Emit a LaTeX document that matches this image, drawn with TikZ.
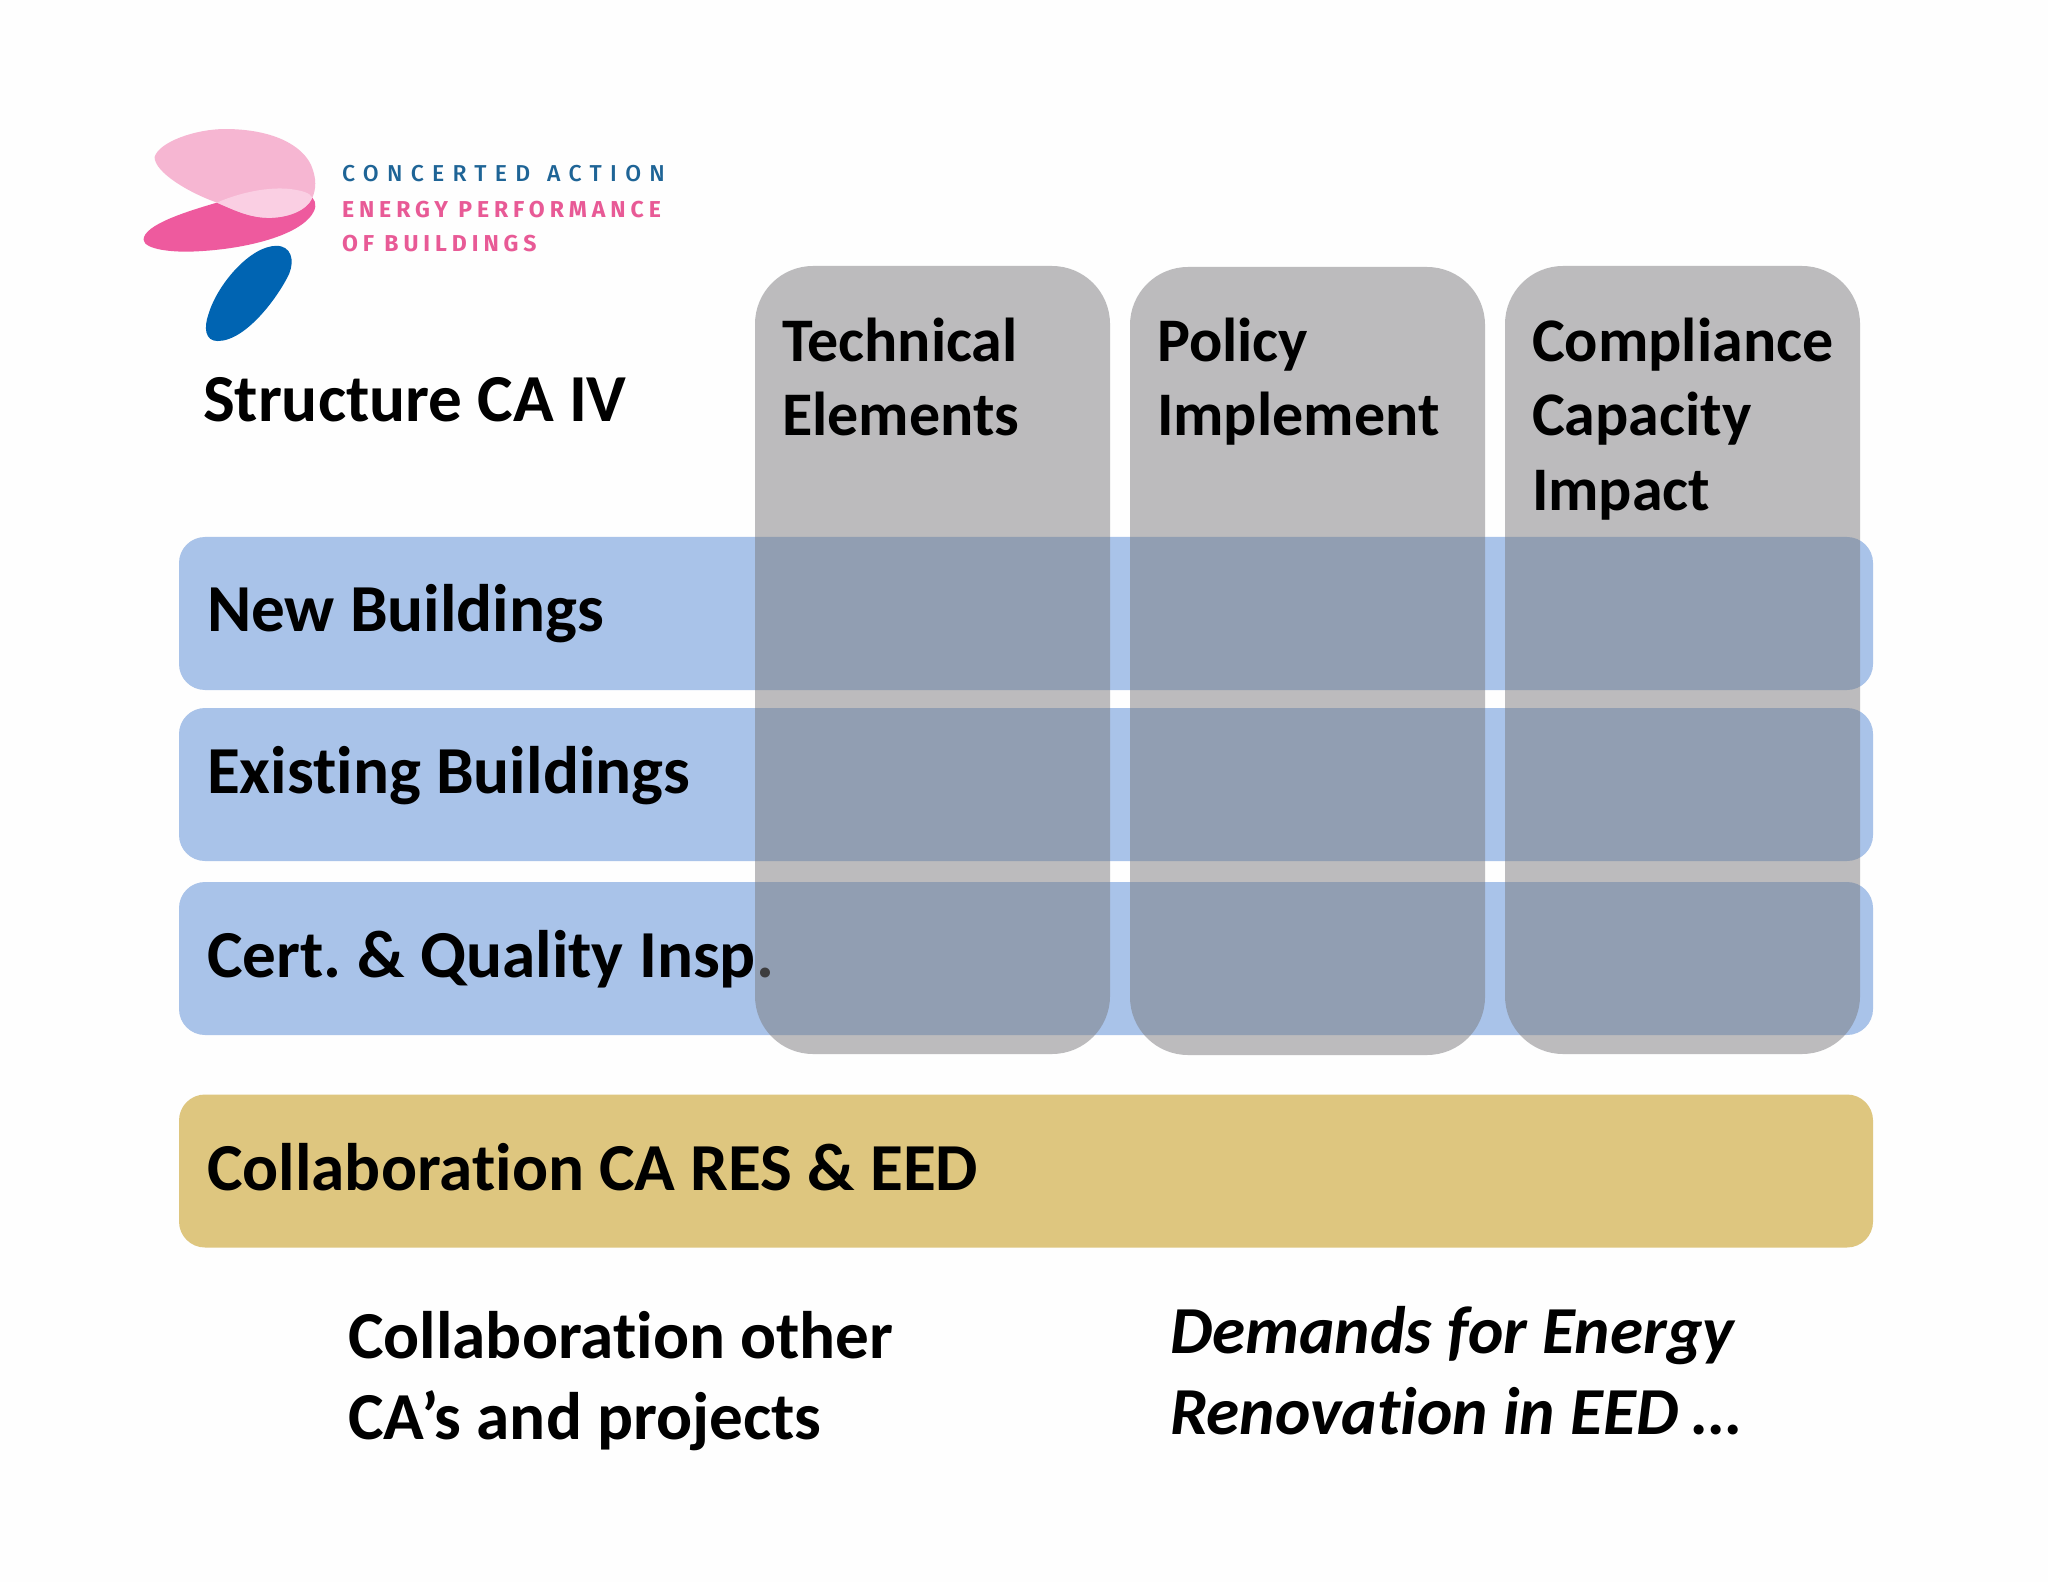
\documentclass[tikz,border=0pt]{standalone}
\usepackage{fontspec}
\setmainfont[Ligatures=NoCommon]{Carlito}
\newfontfamily\logoreg[LetterSpace=36,WordSpace=1.2]{Fira Sans Medium}
\newfontfamily\logobold[LetterSpace=21.5]{Fira Sans}
\definecolor{rowblue}{RGB}{169,195,233}
\definecolor{colgray}{RGB}{123,122,125}
\definecolor{rowgold}{RGB}{222,198,127}
\definecolor{logolight}{RGB}{246,182,210}
\definecolor{logomid}{RGB}{238,90,158}
\definecolor{logopale}{RGB}{250,207,227}
\definecolor{logoblue}{RGB}{0,100,178}
\definecolor{logotext}{RGB}{232,90,150}
\definecolor{logotextb}{RGB}{30,100,150}
\tikzset{
  rowbox/.style={anchor=north west,inner sep=0pt,outer sep=0pt,minimum width=847pt,minimum height=76.5pt,rounded corners=13pt},
  colbox/.style={anchor=north west,inner sep=0pt,outer sep=0pt,minimum width=177.5pt,minimum height=394pt,rounded corners=29pt,fill=colgray,fill opacity=0.5},
  label/.style={anchor=base west,inner sep=0pt,outer sep=0pt,font=\fontsize{33.6}{33.6}\selectfont\bfseries,text=black},
  headlabel/.style={label,font=\fontsize{31}{31}\selectfont\bfseries},
  itlabel/.style={label,font=\fontsize{33.6}{33.6}\selectfont\bfseries\itshape},
  logoline/.style={anchor=base west,inner sep=0pt,outer sep=0pt}
}
\begin{document}
\begin{tikzpicture}[x=0.5pt,y=-0.5pt]
\useasboundingbox (0,0) rectangle (2048,1582);
\fill[white!99.5!black] (0,0) rectangle (2048,1582);
% logo
\begin{scope}[shift={(118.6,108.1)},x=0.1835pt,y=-0.1688pt]
\fill[logomid] (268,280) .. controls (190,305) and (68,345) .. (68,390) .. controls (70,420) and (150,427) .. (200,425) .. controls (330,420) and (470,385) .. (520,325) .. controls (540,300) and (540,280) .. (528,265) -- cycle;
\fill[logolight] (268,280) .. controls (190,250) and (98,190) .. (98,145) .. controls (110,100) and (210,62) .. (290,62) .. controls (420,62) and (500,110) .. (525,170) .. controls (540,210) and (538,240) .. (528,265) .. controls (510,310) and (450,325) .. (410,325) .. controls (360,325) and (320,305) .. (268,280) -- cycle;
\fill[logopale] (268,280) .. controls (330,250) and (410,232) .. (470,240) .. controls (500,245) and (520,250) .. (528,265) .. controls (510,310) and (450,325) .. (410,325) .. controls (360,325) and (320,305) .. (268,280) -- cycle;
\fill[logoblue] (430,408) .. controls (470,408) and (480,450) .. (465,490) .. controls (440,550) and (350,690) .. (270,690) .. controls (235,690) and (232,650) .. (245,610) .. controls (270,520) and (360,408) .. (430,408) -- cycle;
\end{scope}
\node[logoline,text=logotextb,font=\logoreg\fontsize{11.5}{11.5}\selectfont] (logoa) at (342,182) {CONCERTED ACTION};
\node[logoline,text=logotext,font=\logobold\fontsize{11.5}{11.5}\selectfont\bfseries] (logob) at (342,218) {ENERGY PERFORMANCE};
\node[logoline,text=logotext,font=\logobold\fontsize{11.5}{11.5}\selectfont\bfseries] (logoc) at (342,252) {OF BUILDINGS};
% rows
\node[rowbox,fill=rowblue] (rnew) at (179,537) {};
\node[rowbox,fill=rowblue] (rexist) at (179,708) {};
\node[rowbox,fill=rowblue] (rcert) at (179,882) {};
\node[rowbox,fill=rowgold] (rcollab) at (179,1094.5) {};
\node[label] (tnew) at (207,632) {New Buildings};
\node[label] (texist) at (207,793) {Existing Buildings};
\node[label] (tcert) at (207,977) {Cert.\hspace{-2pt} \& Quality Insp.};
\node[label] (tcollab) at (207,1190) {Collaboration CA RES \& EED};
% columns
\node[colbox] (ctech) at (755,266) {};
\node[colbox] (cpol) at (1130,267) {};
\node[colbox] (ccomp) at (1505,266) {};
% headings
\node[headlabel] (h1a) at (782,362) {Technical};
\node[headlabel] (h1b) at (782,436) {Elements};
\node[headlabel] (h2a) at (1157,362) {Policy};
\node[headlabel] (h2b) at (1157,436) {Implement};
\node[headlabel] (h3a) at (1532,362) {Compliance};
\node[headlabel] (h3b) at (1532,436) {Capacity};
\node[headlabel] (h3c) at (1532,511) {Impact};
\node[label] (title) at (203,421.5) {Structure CA IV};
\node[label] (oa) at (348,1358.5) {Collaboration other};
\node[label] (ob) at (348,1439) {CA’s and projects};
\node[itlabel] (da) at (1170,1353) {Demands for Energy};
\node[itlabel] (db) at (1170,1434) {Renovation in EED …};
\end{tikzpicture}
\end{document}
